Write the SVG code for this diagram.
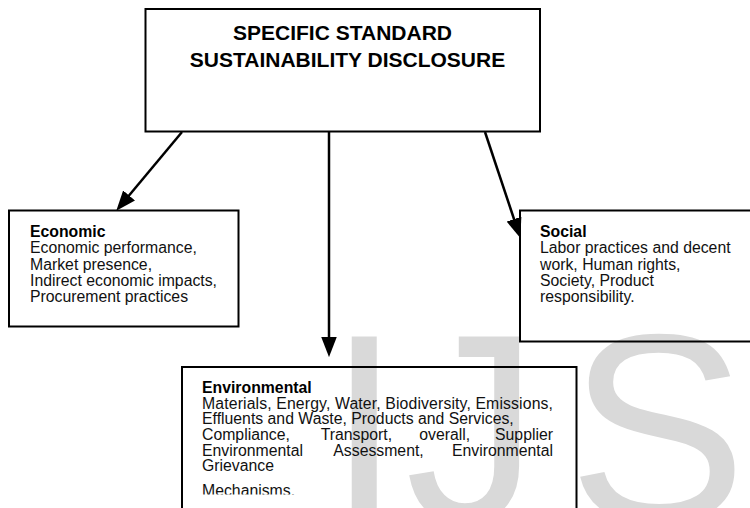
<svg xmlns="http://www.w3.org/2000/svg" width="750" height="508" viewBox="0 0 750 508">
  <style>
    .box { fill: none; stroke: #000; stroke-width: 2; }
    .title { font-family: "Liberation Sans", Arial, sans-serif; font-size: 21px; font-weight: bold; fill: #000; text-anchor: middle; }
    .head { font-family: "Liberation Sans", Arial, sans-serif; font-size: 15.8px; font-weight: bold; fill: #000; }
    .body { font-family: "Liberation Sans", Arial, sans-serif; font-size: 15.8px; fill: #111; }
    .wm { font-family: "Liberation Sans", Arial, sans-serif; font-size: 268px; fill: #d9d9d9; }
    .link { stroke: #000; stroke-width: 2.5; fill: none; marker-end: url(#arrow); }
  </style>
  <defs>
    <marker id="arrow" markerUnits="userSpaceOnUse" markerWidth="20" markerHeight="16" viewBox="0 0 18 14" refX="8" refY="7" orient="auto">
      <path d="M0,0 L18,7 L0,14 z" fill="#000"/>
    </marker>
    <!-- the last line of the environmental block is trimmed at its lower edge -->
    <clipPath id="lastLine">
      <rect x="190" y="470" width="300" height="24.5"/>
    </clipPath>
  </defs>

  <rect x="0" y="0" width="750" height="508" fill="#fff"/>

  <!-- background watermark letters -->
  <text class="wm" x="327 405 568" y="521">IJS</text>

  <g id="root">
    <rect class="box" x="145.5" y="9" width="394.5" height="122.5"/>
    <text class="title" x="342.5" y="40">SPECIFIC STANDARD</text>
    <text class="title" x="347.5" y="66.5">SUSTAINABILITY DISCLOSURE</text>
  </g>

  <g id="economic">
    <rect class="box" x="9" y="210.5" width="229.5" height="116"/>
    <text class="head" x="30" y="237">Economic</text>
    <text class="body" x="30" y="253.3">Economic performance,</text>
    <text class="body" x="30" y="269.6">Market presence,</text>
    <text class="body" x="30" y="285.9">Indirect economic impacts,</text>
    <text class="body" x="30" y="302.2">Procurement practices</text>
  </g>

  <g id="social">
    <rect class="box" x="520" y="210.5" width="245" height="131"/>
    <text class="head" x="540" y="237">Social</text>
    <text class="body" x="540" y="253.3">Labor practices and decent</text>
    <text class="body" x="540" y="269.6">work, Human rights,</text>
    <text class="body" x="540" y="285.9">Society, Product</text>
    <text class="body" x="540" y="302.2">responsibility.</text>
  </g>

  <g id="environmental">
    <rect class="box" x="182" y="367" width="394.5" height="160"/>
    <text class="head" x="202" y="393">Environmental</text>
    <text class="body" x="202" y="408.7" textLength="351" lengthAdjust="spacing">Materials, Energy, Water, Biodiversity, Emissions,</text>
    <text class="body" x="202" y="424.3">Effluents and Waste, Products and Services,</text>
    <text class="body" y="440"><tspan x="202">Compliance,</tspan><tspan x="320.7">Transport,</tspan><tspan x="419.3">overall,</tspan><tspan x="553" text-anchor="end">Supplier</tspan></text>
    <text class="body" y="455.7"><tspan x="202">Environmental</tspan><tspan x="333.3">Assessment,</tspan><tspan x="553" text-anchor="end">Environmental</tspan></text>
    <text class="body" x="202" y="471.3">Grievance</text>
    <text class="body" x="202" y="495.5" clip-path="url(#lastLine)">Mechanisms.</text>
  </g>

  <g id="connectors">
    <line class="link" x1="182" y1="132" x2="123.4" y2="202.3"/>
    <line class="link" x1="329" y1="132" x2="329" y2="346"/>
    <line class="link" x1="485" y1="132" x2="516.8" y2="227.5"/>
  </g>
</svg>
